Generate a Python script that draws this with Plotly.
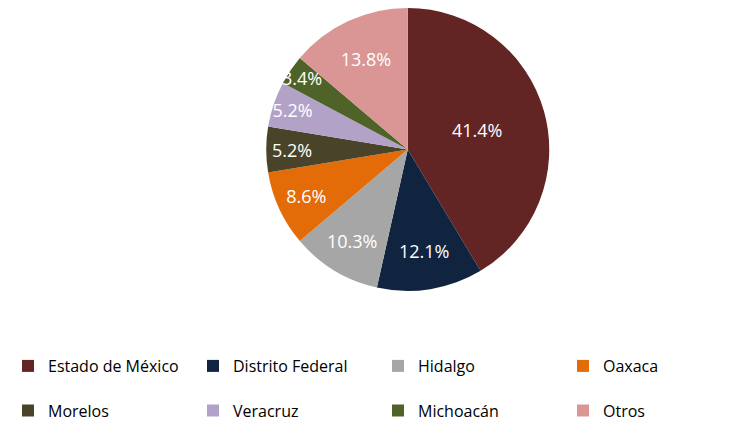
import plotly.graph_objects as go

labels = ["Estado de México", "Distrito Federal", "Hidalgo", "Oaxaca",
          "Morelos", "Veracruz", "Michoacán", "Otros"]
values = [41.4, 12.1, 10.3, 8.6, 5.2, 5.2, 3.4, 13.8]
colors = ["#632523", "#10243F", "#A6A6A6", "#E36C09",
          "#494429", "#B3A2C7", "#4F6228", "#D99694"]

# second legend row gets an empty first line to widen the row gap
legend_labels = [l if i < 4 else " <br>" + l for i, l in enumerate(labels)]

FONT = "Open Sans"

fig = go.Figure(go.Pie(
    labels=legend_labels,
    values=values,
    sort=False,
    direction="clockwise",
    rotation=0,
    marker=dict(colors=colors, line=dict(width=0)),
    texttemplate="%{value:.1f}%",
    textposition="inside",
    insidetextorientation="horizontal",
    textfont=dict(color="white", size=18, family=FONT),
    hoverinfo="skip",
    domain=dict(x=[0.344, 0.722], y=[0.17, 1.0]),
))

fig.update_layout(
    width=750, height=421,
    margin=dict(l=0, r=0, t=0, b=80),
    paper_bgcolor="white",
    font=dict(family=FONT, size=16, color="black"),
    uniformtext=dict(minsize=18, mode="show"),
    showlegend=True,
    legend=dict(
        orientation="h",
        x=0.0, xanchor="left",
        y=0.0, yanchor="top",
        entrywidth=140, entrywidthmode="pixels",
        valign="bottom",
        font=dict(size=16, family=FONT, color="black"),
    ),
)

fig.write_html("out.html")
